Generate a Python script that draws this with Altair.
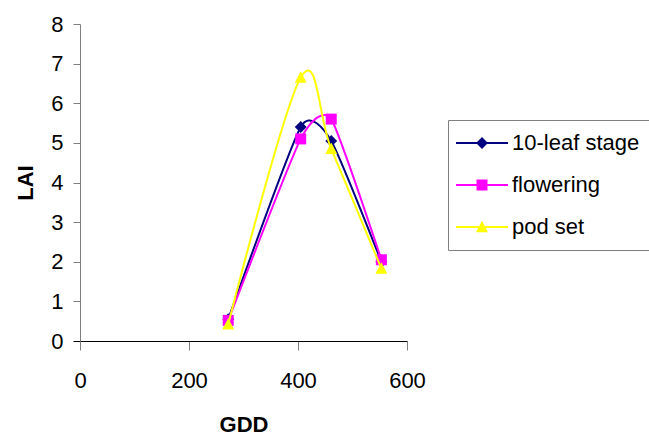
import altair as alt
import pandas as pd

# ---- data ----
gdd = [272, 405, 461, 553]
series_names = ["10-leaf stage", "flowering", "pod set"]
leaf10 = [0.55, 5.4, 5.05, 2.0]
flowering = [0.52, 5.1, 5.6, 2.05]
pod_set = [0.42, 6.65, 4.85, 1.83]
x_ticks = [0, 200, 400, 600]
y_ticks = [0, 1, 2, 3, 4, 5, 6, 7, 8]

colors = ["#000080", "#FF00FF", "#FFFF00"]
shape_paths = [
    "M0,-1.08L1.08,0L0,1.08L-1.08,0Z",
    "M-1,-1L1,-1L1,1L-1,1Z",
    "M0,-1.15L1.08,0.95L-1.08,0.95Z",
]
# smoothing tension per series (Excel limits the overshoot on short segments)
tensions = [0.45, 0.45, 0.0]

rows = []
for name, vals in zip(series_names, [leaf10, flowering, pod_set]):
    for g, v in zip(gdd, vals):
        rows.append({"series": name, "GDD": g, "LAI": v})
df = pd.DataFrame(rows)

FONT = "Liberation Sans"

x = alt.X(
    "GDD:Q",
    scale=alt.Scale(domain=[0, 600], nice=False),
    axis=alt.Axis(
        values=x_ticks, title="GDD", grid=False,
        domainColor="black", domainWidth=1,
        tickColor="#808080", tickSize=9, tickWidth=1,
        labelFont=FONT, labelFontSize=22, labelColor="black",
        labelPadding=20, labelFlush=False, labelOverlap=False,
        titleFont=FONT, titleFontSize=22, titleFontWeight="bold", titleColor="black",
        titleY=73, titleBaseline="top",
    ),
)
y = alt.Y(
    "LAI:Q",
    scale=alt.Scale(domain=[0, 8], nice=False),
    axis=alt.Axis(
        values=y_ticks, title="LAI", grid=False,
        domainColor="#808080", domainWidth=1,
        tickColor={"condition": {"test": "datum.value === 0", "value": "black"}, "value": "#808080"},
        tickSize=7, tickWidth=1,
        labelFont=FONT, labelFontSize=22, labelColor="black",
        labelPadding=10, labelFlush=False, labelOverlap=False,
        titleFont=FONT, titleFontSize=22, titleFontWeight="bold", titleColor="black",
        titleX=-43, titleAngle=270, titleBaseline="bottom",
    ),
)

# legend symbol: a short line (thin filled bar) with the series marker on it
path_lookup = " : ".join(
    f"datum.value === '{n}' ? '{p}'" for n, p in zip(series_names[:-1], shape_paths[:-1])
) + f" : '{shape_paths[-1]}'"
symbol_expr = f"'M-4.73,-0.18L4.73,-0.18L4.73,0.18L-4.73,0.18Z' + ({path_lookup})"

legend = alt.Legend(
    title=None, orient="none", legendX=368, legendY=96, direction="vertical",
    labelFont=FONT, labelFontSize=22, labelColor="black",
    symbolSize=121, symbolOffset=11, labelOffset=19,
    padding=12, rowPadding=20,
    strokeColor="#808080", fillColor="white",
    symbolType={"expr": symbol_expr},
    symbolFillColor={"expr": "scale('color', datum.value)"},
    symbolStrokeWidth=0, symbolOpacity=1,
    labelExpr="datum.label + '        '",
)

color_scale = alt.Scale(domain=series_names, range=colors)

base = alt.Chart(df)
layers = []
for i, (name, t, shp) in enumerate(zip(series_names, tensions, shape_paths)):
    sub = base.transform_filter(alt.datum.series == name)
    layers.append(
        sub.mark_line(interpolate="cardinal", tension=t, strokeWidth=2).encode(
            x=x, y=y,
            color=alt.Color("series:N", scale=color_scale, legend=legend if i == 0 else None),
        )
    )
    layers.append(
        sub.mark_point(filled=True, size=121, opacity=1, strokeWidth=0, shape=shp).encode(
            x=x, y=y,
            color=alt.Color("series:N", scale=color_scale, legend=None),
        )
    )

chart = (
    alt.layer(*layers)
    .properties(
        width=327, height=317,
        padding={"left": 80, "top": 24, "right": 242, "bottom": 94},
        autosize=alt.AutoSizeParams(type="none"),
        background="white",
    )
    .configure_view(stroke=None)
)

chart.save("out.html", embed_options={"renderer": "svg", "actions": False})
